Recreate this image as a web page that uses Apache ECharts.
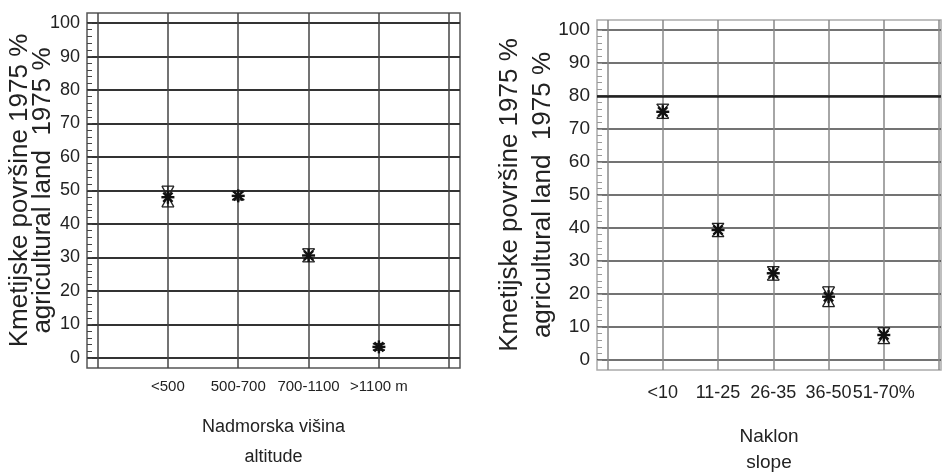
<!DOCTYPE html>
<html>
<head>
<meta charset="utf-8">
<script src="https://cdn.jsdelivr.net/npm/echarts@6/dist/echarts.min.js"></script>
<style>
html,body{margin:0;padding:0;background:#fff;}
#main{width:942px;height:474px;}
</style>
</head>
<body>
<div id="main"></div>
<script>
// Nadmorska visina / altitude
var altCats = ['<500', '500-700', '700-1100', '>1100 m'];
var altVal = [48, 48.4, 30.6, 3.3];
var altLow = [45.1, 47.2, 28.7, 2.3];
var altHigh = [51.3, 49.8, 32.6, 4.3];

// Naklon / slope
var slopeCats = ['<10', '11-25', '26-35', '36-50', '51-70%'];
var slopeVal = [75.2, 39.4, 26.3, 19.2, 7.6];
var slopeLow = [73.2, 37.4, 24.2, 16.2, 5.0];
var slopeHigh = [77.5, 41.4, 28.3, 22.2, 9.8];

// osi
var yTicks = [0, 10, 20, 30, 40, 50, 60, 70, 80, 90, 100];
var yMinor = [0, 2, 4, 6, 8, 10, 12, 14, 16, 18, 20, 22, 24, 26, 28, 30, 32, 34, 36, 38, 40,
    42, 44, 46, 48, 50, 52, 54, 56, 58, 60, 62, 64, 66, 68, 70, 72, 74, 76, 78, 80,
    82, 84, 86, 88, 90, 92, 94, 96, 98, 100];
var altXLines = [0, 1, 2, 3, 4, 5];
var slopeXLines = [0, 1, 2, 3, 4, 5, 6];
var yTitle = 'Kmetijske površine 1975 %\nagricultural land  1975 %';

var sans = "'Liberation Sans', Arial, sans-serif";

// podatki za custom serijo: [x, vrednost, min, max]
function fnBuild(vals, lows, highs){
    var arr = [];
    for(var i=0;i<vals.length;i++){
        arr.push([i+1, vals[i], lows[i], highs[i]]);
    }
    return arr;
}

// napaka (pescena ura) + zvezdica
function fnErrItem(params, api){
    var x = api.value(0);
    var c = api.coord([x, api.value(1)]);
    var lo = api.coord([x, api.value(2)]);
    var hi = api.coord([x, api.value(3)]);
    var w = 6, r = 6.5, d = r*0.707;
    var thin = {stroke:'#222', lineWidth:1.3};
    var bold = {stroke:'#111', lineWidth:2.4};
    function ln(x1,y1,x2,y2,st){
        return {type:'line', shape:{x1:x1,y1:y1,x2:x2,y2:y2}, style:st};
    }
    return {type:'group', children:[
        ln(lo[0],lo[1],hi[0],hi[1],thin),
        ln(hi[0]-w,hi[1],hi[0]+w,hi[1],thin),
        ln(lo[0]-w,lo[1],lo[0]+w,lo[1],thin),
        ln(hi[0]-w,hi[1],lo[0]+w,lo[1],thin),
        ln(hi[0]+w,hi[1],lo[0]-w,lo[1],thin),
        ln(c[0],c[1]-r,c[0],c[1]+r,bold),
        ln(c[0]-r,c[1],c[0]+r,c[1],bold),
        ln(c[0]-d,c[1]-d,c[0]+d,c[1]+d,bold),
        ln(c[0]-d,c[1]+d,c[0]+d,c[1]-d,bold)
    ]};
}

var myChart = echarts.init(document.getElementById('main'));
var option = {
    animation: false,
    grid: [
        {left:87, top:13, width:373, height:355, outerBoundsMode:'none', containLabel:false,
            show:true, borderColor:'#555', borderWidth:1.5, backgroundColor:'transparent'},
        {left:597, top:20, width:344, height:350, outerBoundsMode:'none', containLabel:false,
            show:true, borderColor:'#aaa', borderWidth:1.5, backgroundColor:'transparent'}
    ],
    xAxis: [
        {
            type:'value', gridIndex:0, min:-0.15, max:5.153,
            axisLine:{show:false},
            axisTick:{show:false, customValues:altXLines},
            splitLine:{show:true, lineStyle:{color:'#444', width:1.5}},
            axisLabel:{
                customValues:[1,2,3,4], margin:11, color:'#222', hideOverlap:false,
                showMinLabel:true, showMaxLabel:true,
                fontFamily:sans, fontSize:15,
                formatter:function(v){ return altCats[v-1]; }
            },
            name:'Nadmorska višina\naltitude', nameLocation:'middle', nameGap:44, nameMoveOverlap:false,
            nameTextStyle:{fontFamily:sans, fontSize:18, lineHeight:30, color:'#222'}
        },
        {
            type:'value', gridIndex:1, min:-0.19, max:6.035,
            axisLine:{show:false},
            axisTick:{show:false, customValues:slopeXLines},
            splitLine:{show:true, lineStyle:{color:'#888', width:1.5}},
            axisLabel:{
                customValues:[1,2,3,4,5], margin:14, color:'#222', hideOverlap:false,
                showMinLabel:true, showMaxLabel:true,
                fontFamily:sans, fontSize:18,
                formatter:function(v){ return slopeCats[v-1]; }
            },
            name:'Naklon\nslope', nameLocation:'middle', nameGap:54, nameMoveOverlap:false,
            nameTextStyle:{fontFamily:sans, fontSize:19, lineHeight:26, color:'#222'}
        }
    ],
    yAxis: [
        {
            type:'value', gridIndex:0, min:-3, max:103, position:'left',
            axisLine:{show:false},
            axisTick:{show:false, customValues:yTicks},
            splitLine:{show:true, lineStyle:{color:'#333', width:2}},
            axisLabel:{customValues:yTicks, margin:7, color:'#222', fontFamily:sans, fontSize:18, hideOverlap:false},
            name:yTitle, nameLocation:'middle', nameRotate:90, nameGap:33, nameMoveOverlap:false,
            nameTextStyle:{fontFamily:sans, fontSize:26, lineHeight:23, color:'#222'}
        },
        {
            type:'value', gridIndex:0, min:-3, max:103, position:'left',
            axisLine:{show:false},
            axisTick:{show:true, inside:true, length:5, customValues:yMinor, lineStyle:{color:'#444', width:1}},
            splitLine:{show:false},
            axisLabel:{show:false}
        },
        {
            type:'value', gridIndex:1, min:-3, max:103, position:'left',
            axisLine:{show:false},
            axisTick:{show:false, customValues:yTicks},
            splitLine:{show:true, lineStyle:{color:'#444', width:1.5}},
            axisLabel:{customValues:yTicks, margin:7, color:'#222', fontFamily:sans, fontSize:19, hideOverlap:false},
            name:yTitle, nameLocation:'middle', nameRotate:90, nameGap:38, nameMoveOverlap:false,
            nameTextStyle:{fontFamily:sans, fontSize:26, lineHeight:33, color:'#222'}
        },
        {
            type:'value', gridIndex:1, min:-3, max:103, position:'left',
            axisLine:{show:false},
            axisTick:{show:true, inside:true, length:5, customValues:yMinor, lineStyle:{color:'#999', width:1}},
            splitLine:{show:false},
            axisLabel:{show:false}
        }
    ],
    series: [
        {
            type:'custom', xAxisIndex:0, yAxisIndex:0,
            data:fnBuild(altVal, altLow, altHigh),
            renderItem:fnErrItem, silent:true
        },
        {
            type:'custom', xAxisIndex:1, yAxisIndex:2,
            data:fnBuild(slopeVal, slopeLow, slopeHigh),
            renderItem:fnErrItem, silent:true,
            markLine:{
                silent:true, symbol:'none', label:{show:false},
                lineStyle:{type:'solid', color:'#222', width:2.5},
                data:[{yAxis:80}]
            }
        }
    ]
};
myChart.setOption(option);
</script>
</body>
</html>
